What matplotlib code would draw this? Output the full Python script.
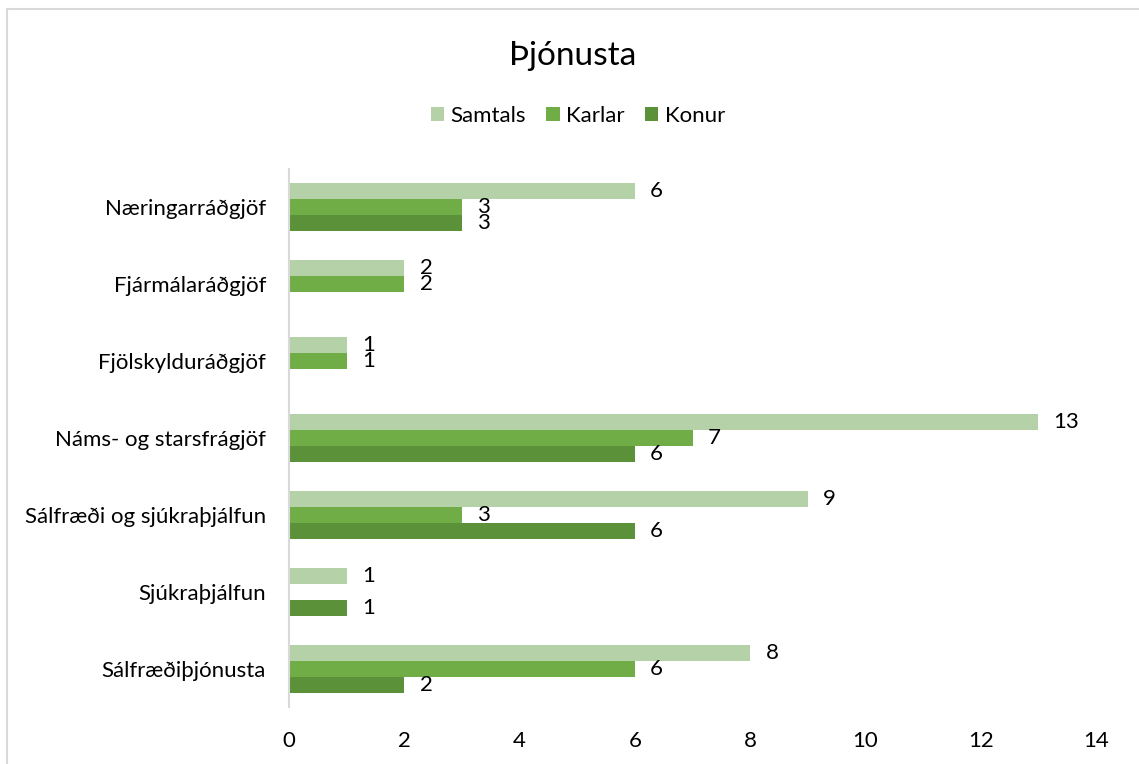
import matplotlib
matplotlib.use("Agg")
import matplotlib.pyplot as plt
import numpy as np
from matplotlib.patches import Rectangle

# categories listed bottom to top, as drawn
categories = ["Sálfræðiþjónusta", "Sjúkraþjálfun", "Sálfræði og sjúkraþjálfun",
              "Náms- og starsfrágjöf", "Fjölskylduráðgjöf", "Fjármálaráðgjöf",
              "Næringarráðgjöf"]
samtals = [8, 1, 9, 13, 1, 2, 6]
karlar = [6, 0, 3, 7, 1, 2, 3]
konur = [2, 1, 6, 6, 0, 0, 3]

series = [("Samtals", samtals, "#b5d1a7"),
          ("Karlar", karlar, "#70ad47"),
          ("Konur", konur, "#5a9139")]

plt.rcParams["font.family"] = ["Lato", "DejaVu Sans"]

W, H = 1139, 764
fig = plt.figure(figsize=(W / 100, H / 100), dpi=100)
ax = fig.add_axes([289 / W, 1 - 707 / H, (1096 - 289) / W, (707 - 169) / H])

y = np.arange(len(categories))
bh = 16 / 76.9
for i, (name, vals, col) in enumerate(series):
    pos = y + (1 - i) * bh
    vals = np.array(vals, dtype=float)
    ax.barh(pos, vals, height=bh, color=col, label=name)
    # blank (zero) cells get no bar label, as in the source
    for p, v in zip(pos, vals):
        if v > 0:
            ax.annotate(f"{int(v)}", (v, p), xytext=(11, 0), textcoords="offset points",
                        ha="left", va="center", fontsize=16, color="#000000")

ax.set_xlim(0, 14)
ax.set_ylim(-0.5, len(categories) - 0.5)
ax.set_xticks(np.arange(0, 15, 2))
ax.set_yticks(y)
ax.set_yticklabels(categories, fontsize=16)
ax.tick_params(axis="both", length=0, labelsize=16, colors="#000000")
ax.tick_params(axis="y", pad=16.5)
ax.tick_params(axis="x", pad=17)
for s in ["top", "right", "bottom"]:
    ax.spines[s].set_visible(False)
ax.spines["left"].set_color("#d9d9d9")
ax.spines["left"].set_linewidth(1.5)

fig.text(573 / W, 1 - 56 / H, "Þjónusta", ha="center", va="center", fontsize=24)
handles, labels = ax.get_legend_handles_labels()
fig.legend(handles, labels, loc="center", bbox_to_anchor=(578 / W, 1 - 116 / H),
           ncol=3, frameon=False, fontsize=16, handlelength=0.6, handleheight=0.6,
           handletextpad=0.3, columnspacing=0.9)

fig.patches.append(Rectangle((7 / W, -0.05), 1.1, 1 - 9 / H + 0.05, transform=fig.transFigure,
                             fill=False, edgecolor="#d9d9d9", linewidth=1.5))

fig.savefig("out.png", dpi=100)
